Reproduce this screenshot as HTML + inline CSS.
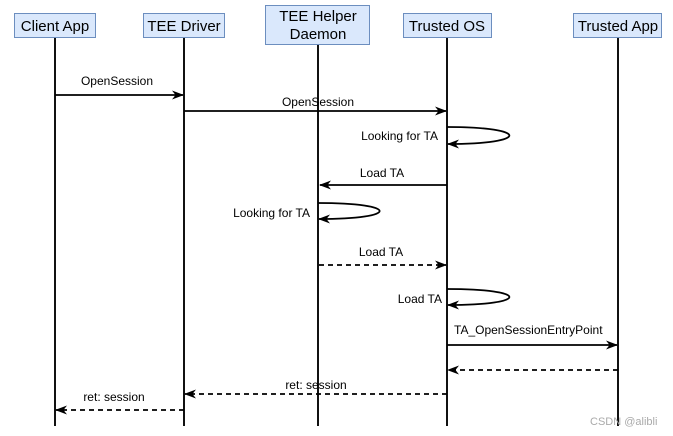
<!DOCTYPE html>
<html><head><meta charset="utf-8"><style>
html,body{margin:0;padding:0;background:#fff;}
svg{display:block;font-family:"Liberation Sans",Arial,sans-serif;}
</style></head><body>
<svg width="673" height="436" viewBox="0 0 673 436" xmlns="http://www.w3.org/2000/svg">
<defs>
<marker id="a" markerWidth="12" markerHeight="12" refX="11" refY="6" orient="auto" markerUnits="userSpaceOnUse">
<path d="M0,1.5 L12,6 L0,10.5 L3.5,6 Z" fill="#000"/>
</marker>
</defs>
<g stroke="#111" stroke-width="2">
<line x1="55" y1="38" x2="55" y2="426"/>
<line x1="184" y1="38" x2="184" y2="426"/>
<line x1="318" y1="45" x2="318" y2="426"/>
<line x1="447" y1="38" x2="447" y2="426"/>
<line x1="618" y1="38" x2="618" y2="426"/>
</g>
<g fill="#dae8fc" stroke="#6c8ebf" stroke-width="1">
<rect x="14.5" y="13.5" width="81" height="24"/>
<rect x="143.5" y="13.5" width="81" height="24"/>
<rect x="265.5" y="5.5" width="104" height="39"/>
<rect x="403.5" y="13.5" width="88" height="24"/>
<rect x="573.5" y="13.5" width="88" height="24"/>
</g>
<g font-size="15" text-anchor="middle" fill="#000">
<text x="55" y="31">Client App</text>
<text x="184" y="31">TEE Driver</text>
<text x="318" y="21">TEE Helper</text>
<text x="318" y="39">Daemon</text>
<text x="447" y="31">Trusted OS</text>
<text x="618" y="31">Trusted App</text>
</g>
<g stroke="#000" stroke-width="1.8" fill="none" marker-end="url(#a)">
<line x1="55" y1="95" x2="183" y2="95"/>
<line x1="184" y1="111" x2="446" y2="111"/>
<path d="M447,127 C530,127 530,144 448,144"/>
<line x1="447" y1="185" x2="320" y2="185"/>
<path d="M318,203 C400,203 400,219 319,219"/>
<line x1="319" y1="265" x2="446" y2="265" stroke-dasharray="5,4"/>
<path d="M447,289 C530,289 530,305 448,305"/>
<line x1="447" y1="345" x2="617" y2="345"/>
<line x1="618" y1="370" x2="448" y2="370" stroke-dasharray="5,4"/>
<line x1="447" y1="394" x2="185" y2="394" stroke-dasharray="5,4"/>
<line x1="184" y1="410" x2="56" y2="410" stroke-dasharray="5,4"/>
</g>
<g font-size="12" fill="#000">
<text x="117" y="85" text-anchor="middle">OpenSession</text>
<text x="318" y="106" text-anchor="middle">OpenSession</text>
<text x="438" y="140" text-anchor="end">Looking for TA</text>
<text x="382" y="177" text-anchor="middle">Load TA</text>
<text x="310" y="217" text-anchor="end">Looking for TA</text>
<text x="381" y="256" text-anchor="middle">Load TA</text>
<text x="442" y="303" text-anchor="end">Load TA</text>
<text x="454" y="334">TA_OpenSessionEntryPoint</text>
<text x="316" y="389" text-anchor="middle">ret: session</text>
<text x="114" y="401" text-anchor="middle">ret: session</text>
</g>
<text x="590" y="425" font-size="11" fill="#aaa">CSDN @alibli</text>
</svg>
</body></html>
